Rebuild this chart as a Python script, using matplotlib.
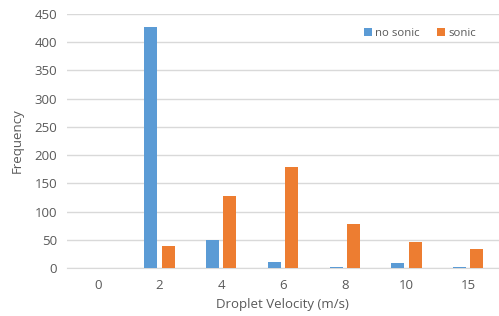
import numpy as np
import matplotlib
matplotlib.use("Agg")
import matplotlib.pyplot as plt

# data
categories = ["0", "2", "4", "6", "8", "10", "15"]
no_sonic = [0, 427, 50, 12, 2, 10, 2]
sonic = [0, 40, 128, 180, 78, 46, 34]

blue = "#5B9BD5"
orange = "#ED7D31"
text_col = "#595959"

plt.rcParams['font.family'] = ['Open Sans', 'DejaVu Sans']

fig = plt.figure(figsize=(4.99, 3.16), dpi=100)
ax = fig.add_axes([0.134, 0.151, 0.866, 0.805])

x = np.arange(len(categories))
w = 0.21
ax.bar(x - 0.14, no_sonic, width=w, color=blue, label="no sonic", zorder=3)
ax.bar(x + 0.14, sonic, width=w, color=orange, label="sonic", zorder=3)

ax.set_xlim(-0.5, len(categories) - 0.5)
ax.set_ylim(0, 450)
ax.set_yticks(range(0, 451, 50))
ax.set_xticks(x)
ax.set_xticklabels(categories)

ax.grid(axis="y", color="#d9d9d9", linewidth=1, zorder=0)
for s in ["top", "right", "left"]:
    ax.spines[s].set_visible(False)
ax.spines["bottom"].set_color("#d9d9d9")
ax.tick_params(axis="both", length=0, labelsize=9.5, colors=text_col)
ax.tick_params(axis="x", pad=8)
ax.tick_params(axis="y", pad=7)

ax.set_xlabel("Droplet Velocity (m/s)", fontsize=9.5, color=text_col, labelpad=4)
ax.set_ylabel("Frequency", fontsize=9.5, color=text_col, labelpad=8)

ax.legend(loc="upper right", bbox_to_anchor=(0.97, 0.985), ncol=2, frameon=False,
          fontsize=8.2, labelcolor=text_col, handlelength=0.7, handleheight=0.7,
          handletextpad=0.3, columnspacing=1.5)

fig.savefig("out.png", dpi=100)
